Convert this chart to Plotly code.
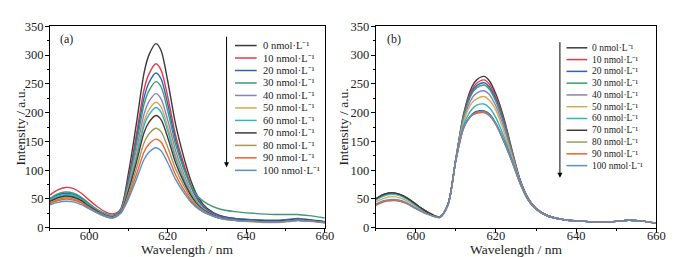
import plotly.graph_objects as go

# ---------------- data ----------------
wavelength = [590, 592, 594, 596, 598, 600, 602, 604, 606, 608, 610, 612, 614, 615.2, 617,
              618.3, 620, 622, 624, 626, 628, 630, 633, 637, 642, 647, 650, 653, 656, 660]

labels = ["0 nmol·L⁻¹", "10 nmol·L⁻¹", "20 nmol·L⁻¹", "30 nmol·L⁻¹", "40 nmol·L⁻¹",
          "50 nmol·L⁻¹", "60 nmol·L⁻¹", "70 nmol·L⁻¹", "80 nmol·L⁻¹", "90 nmol·L⁻¹",
          "100 nmol·L⁻¹"]

colors = ["#3a3a3a", "#e8384a", "#2e64b0", "#3b9a72", "#8c7fc0", "#d8a850",
          "#2fb5c0", "#4a3535", "#a3985a", "#f0602a", "#5b8fc8"]

a_0   = [47, 53, 56, 54, 48, 38, 29, 23, 21, 32, 95, 180, 270, 300, 320, 308, 255, 180, 125, 80, 50, 34, 22, 16, 13, 12, 13, 15, 13, 10]
a_10  = [57, 66, 70, 68, 60, 48, 37, 28, 24, 32, 86, 161, 241, 267, 285, 274, 228, 161, 113, 73, 46, 31, 20, 15, 12, 11, 12, 14, 12, 9]
a_20  = [50, 57, 60, 58, 51, 41, 31, 24, 21, 31, 82, 153, 227, 252, 269, 259, 215, 153, 107, 70, 45, 31, 21, 16, 14, 13, 14, 16, 14, 11]
a_30  = [51, 59, 62, 60, 53, 42, 32, 25, 21, 30, 78, 145, 215, 238, 254, 245, 203, 145, 104, 72, 52, 42, 33, 28, 25, 23, 23, 23, 21, 17]
a_40  = [47, 54, 57, 55, 48, 39, 30, 23, 20, 29, 73, 134, 198, 219, 233, 224, 187, 134, 95, 63, 41, 29, 19, 14, 11, 10, 11, 13, 12, 9]
a_50  = [44, 50, 53, 51, 45, 36, 28, 21, 18, 27, 69, 126, 185, 205, 218, 210, 175, 126, 89, 60, 40, 28, 18, 13, 10, 9, 10, 12, 11, 8]
a_60  = [48, 55, 58, 56, 49, 39, 30, 23, 20, 28, 67, 121, 178, 196, 209, 201, 168, 121, 86, 58, 39, 28, 18, 13, 11, 10, 11, 13, 12, 9]
a_70  = [46, 52, 55, 53, 47, 37, 29, 22, 19, 27, 64, 113, 166, 183, 195, 188, 157, 113, 81, 55, 37, 27, 18, 14, 12, 11, 12, 14, 13, 10]
a_80  = [43, 49, 52, 50, 44, 35, 27, 21, 18, 26, 58, 102, 148, 163, 173, 167, 140, 102, 74, 51, 35, 26, 17, 13, 11, 10, 11, 13, 12, 9]
a_90  = [42, 47, 50, 48, 43, 34, 26, 20, 17, 25, 54, 92, 132, 145, 154, 149, 125, 92, 67, 47, 33, 25, 17, 13, 11, 10, 11, 13, 12, 9]
a_100 = [40, 44, 46, 45, 40, 33, 26, 20, 17, 25, 50, 84, 119, 131, 139, 134, 113, 84, 62, 44, 32, 24, 17, 13, 11, 10, 11, 13, 12, 9]

b_0   = [50, 58, 61, 58, 51, 41, 31, 23, 19, 40, 120, 200, 245, 257, 263, 256, 232, 190, 135, 84, 52, 34, 21, 14, 11, 10, 11, 13, 12, 8]
b_10  = [49, 57, 59, 57, 50, 40, 31, 23, 19, 40, 120, 198, 240, 251, 257, 250, 227, 186, 133, 83, 51, 34, 21, 14, 11, 10, 11, 13, 12, 8]
b_20  = [50, 57, 60, 57, 50, 40, 31, 23, 19, 40, 119, 196, 236, 247, 252, 245, 223, 183, 131, 82, 51, 33, 21, 14, 11, 10, 11, 13, 12, 8]
b_30  = [50, 57, 60, 57, 50, 40, 31, 23, 19, 40, 119, 194, 233, 243, 248, 241, 219, 180, 130, 82, 51, 33, 21, 14, 11, 10, 11, 13, 12, 8]
b_40  = [40, 46, 48, 47, 42, 34, 27, 21, 18, 39, 119, 190, 225, 234, 238, 232, 211, 174, 127, 81, 50, 33, 20, 14, 11, 10, 11, 13, 12, 8]
b_50  = [45, 51, 54, 52, 46, 37, 29, 22, 19, 39, 118, 186, 217, 224, 228, 222, 204, 167, 124, 80, 50, 33, 20, 14, 11, 10, 11, 13, 12, 8]
b_60  = [48, 55, 58, 56, 49, 39, 30, 23, 19, 40, 118, 180, 206, 213, 215, 209, 191, 158, 119, 79, 49, 32, 20, 14, 11, 10, 11, 13, 12, 8]
b_70  = [50, 58, 61, 58, 51, 41, 31, 23, 19, 40, 118, 175, 197, 202, 203, 198, 181, 151, 116, 78, 49, 32, 20, 14, 11, 10, 11, 13, 12, 8]
b_80  = [40, 46, 48, 47, 42, 34, 27, 21, 18, 39, 117, 175, 196, 200, 201, 196, 180, 150, 115, 78, 49, 32, 20, 14, 11, 10, 11, 13, 12, 8]
b_90  = [39, 45, 47, 46, 41, 33, 26, 21, 18, 39, 117, 174, 195, 199, 200, 195, 179, 149, 115, 77, 48, 32, 20, 14, 11, 10, 11, 13, 12, 8]
b_100 = [41, 47, 49, 48, 42, 34, 27, 21, 18, 39, 117, 175, 196, 201, 202, 197, 180, 150, 115, 78, 49, 32, 20, 14, 11, 10, 11, 13, 12, 8]

series_a = [a_0, a_10, a_20, a_30, a_40, a_50, a_60, a_70, a_80, a_90, a_100]
series_b = [b_0, b_10, b_20, b_30, b_40, b_50, b_60, b_70, b_80, b_90, b_100]

x_ticks = [600, 620, 640, 660]
y_ticks = [0, 50, 100, 150, 200, 250, 300, 350]

# ---------------- figure ----------------
W, H = 682, 257
FONT = "Liberation Serif"
TXT = "#222"

fig = go.Figure()
for i, ys in enumerate(series_a):
    fig.add_trace(go.Scatter(x=wavelength, y=ys, mode="lines", name=labels[i],
                             line=dict(color=colors[i], width=1.4, shape="spline", smoothing=0.8),
                             xaxis="x", yaxis="y", showlegend=False))
for i, ys in enumerate(series_b):
    fig.add_trace(go.Scatter(x=wavelength, y=ys, mode="lines", name=labels[i],
                             line=dict(color=colors[i], width=1.4, shape="spline", smoothing=0.8),
                             xaxis="x2", yaxis="y2", showlegend=False))

def px(x):
    return x / W

def py(y):
    return 1 - y / H

ydom = [py(225), py(12)]
axis_common = dict(showline=True, linecolor="black", linewidth=1, mirror=True,
                   ticks="outside", ticklen=4, tickcolor="black", showgrid=False, zeroline=False,
                   tickfont=dict(family=FONT, size=12.5, color=TXT))
xax = dict(axis_common, range=[590, 660], tickvals=x_ticks, ticklabelstandoff=-8,
           minor=dict(ticks="outside", ticklen=2, dtick=10, tick0=590, tickcolor="black"))
yax = dict(axis_common, range=[0, 350], tickvals=y_ticks, ticklabelstandoff=-1,
           minor=dict(ticks="outside", ticklen=2, dtick=25, tickcolor="black"))

fig.update_layout(
    width=W, height=H, margin=dict(l=0, r=0, t=0, b=0),
    paper_bgcolor="white", plot_bgcolor="white",
    xaxis=dict(xax, domain=[px(42.5), px(321)], anchor="y"),
    yaxis=dict(yax, domain=ydom, anchor="x"),
    xaxis2=dict(xax, domain=[px(372.6), px(657)], anchor="y2"),
    yaxis2=dict(yax, domain=ydom, anchor="x2"),
)

shapes = []
annotations = []

def legend(x0, x1, xt, y0, dy, fsize, arrow_x, arrow_top, arrow_bot):
    for i, lab in enumerate(labels):
        yy = y0 + i * dy
        shapes.append(dict(type="line", xref="paper", yref="paper",
                           x0=px(x0), x1=px(x1), y0=py(yy), y1=py(yy),
                           line=dict(color=colors[i], width=1.5)))
        annotations.append(dict(xref="paper", yref="paper", x=px(xt), y=py(yy),
                                text=lab, showarrow=False, xanchor="left", yanchor="middle",
                                font=dict(family=FONT, size=fsize, color=TXT)))
    annotations.append(dict(xref="paper", yref="paper", x=px(arrow_x), y=py(arrow_bot),
                            ax=0, ay=-(arrow_bot - arrow_top), axref="pixel", ayref="pixel",
                            showarrow=True, arrowhead=2, arrowsize=1, arrowwidth=1,
                            arrowcolor="black", text=""))

legend(230, 252, 256, 32.3, 13.2, 10.5, 221.5, 29, 161)
legend(566, 587, 590, 34.7, 12.46, 9.5, 559.3, 35, 172)

for tx, lab in [(51, "(a)"), (382, "(b)")]:
    annotations.append(dict(xref="paper", yref="paper", x=px(tx), y=py(25), text=lab,
                            showarrow=False, xanchor="left", yanchor="middle",
                            font=dict(family=FONT, size=12, color=TXT)))

# axis titles
for cx in [(42.5 + 321) / 2, (372.6 + 657) / 2]:
    annotations.append(dict(xref="paper", yref="paper", x=px(cx), y=py(248),
                            text="Wavelength / nm", showarrow=False,
                            xanchor="center", yanchor="middle",
                            font=dict(family=FONT, size=13.5, color=TXT)))
for cx in [12.5, 340]:
    annotations.append(dict(xref="paper", yref="paper", x=px(cx), y=py(118.5),
                            text="Intensity / a.u.", showarrow=False, textangle=-90,
                            xanchor="center", yanchor="middle",
                            font=dict(family=FONT, size=13.5, color=TXT)))

fig.update_layout(shapes=shapes, annotations=annotations)
fig.write_html("out.html")
